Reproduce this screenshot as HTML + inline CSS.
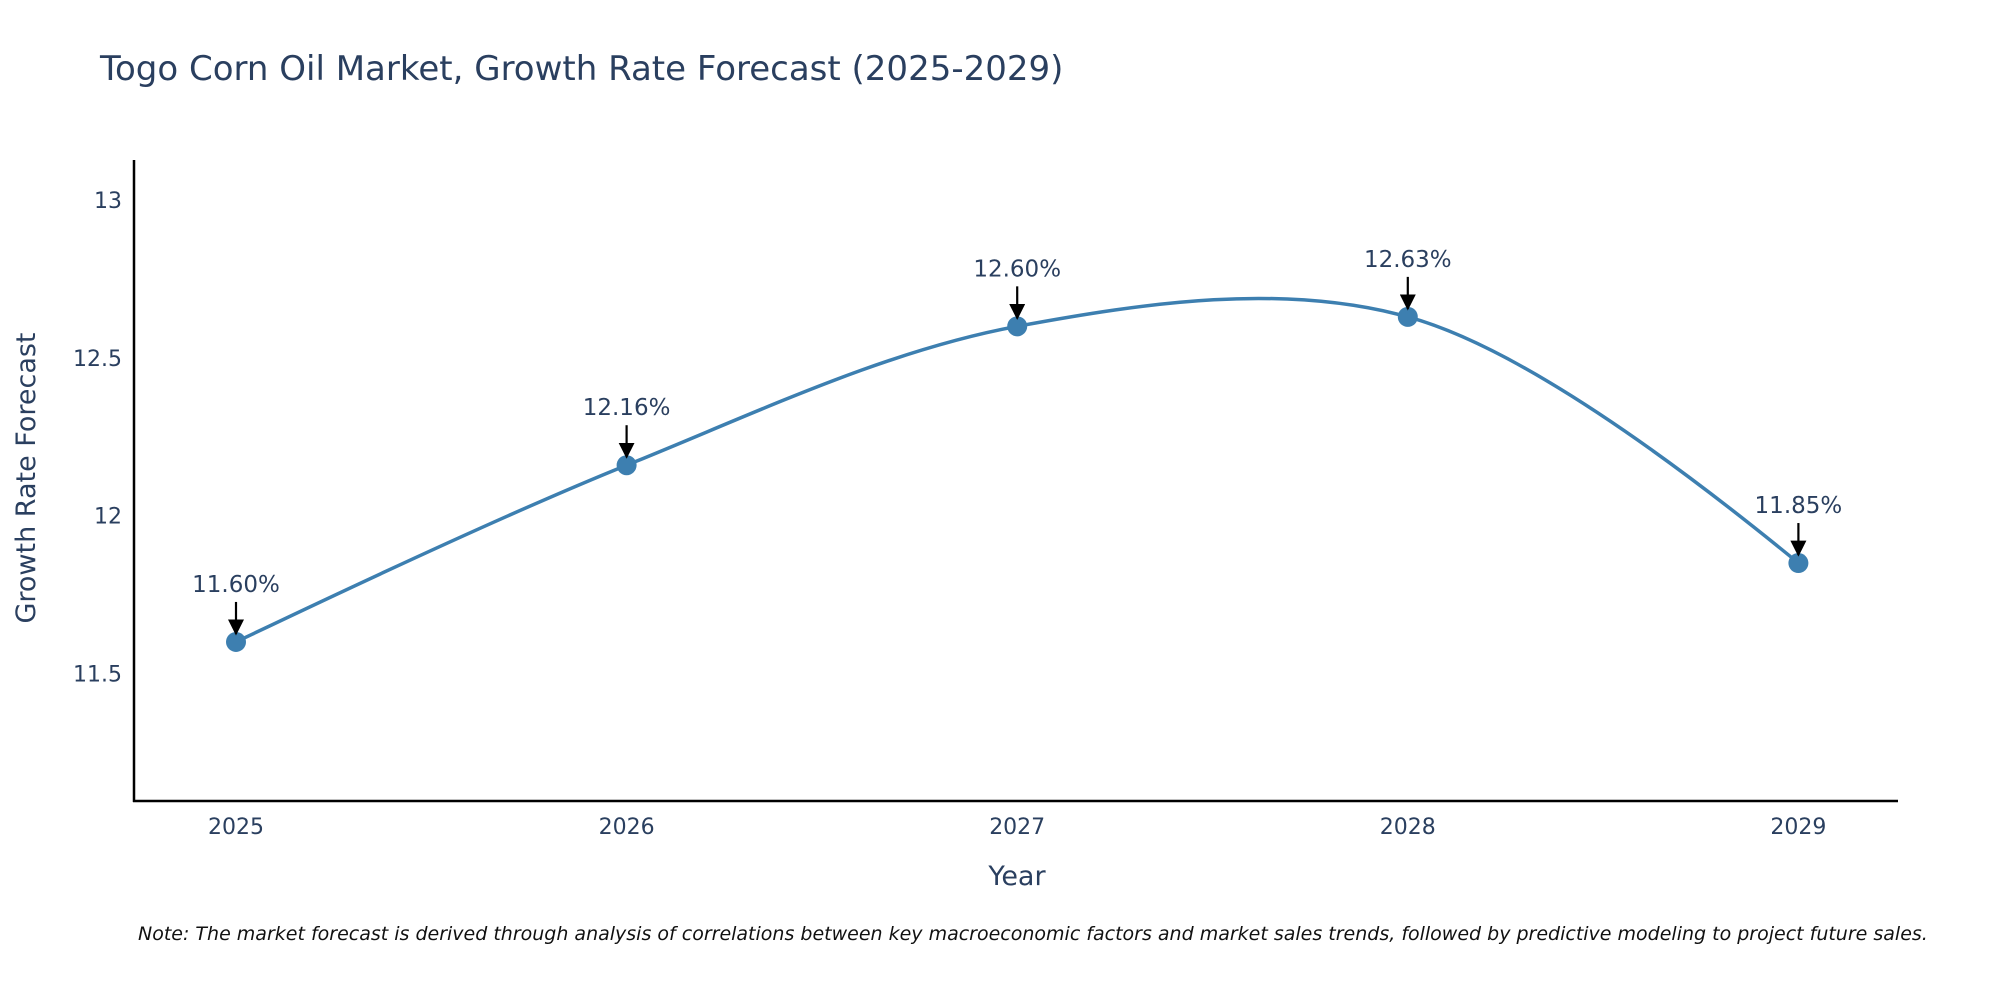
<!DOCTYPE html>
<html><head><meta charset="utf-8"><style>
body{margin:0;background:#fff;}
svg text{font-family:"DejaVu Sans","Liberation Sans",sans-serif;}
</style></head><body>
<svg id="chart" width="2000" height="1000" xmlns="http://www.w3.org/2000/svg">
<defs><marker id="ah" viewBox="0 0 10 10" refX="9" refY="5" markerWidth="7" markerHeight="7" markerUnits="userSpaceOnUse" orient="auto"><path d="M0,0L10,5L0,10z" fill="#000"/></marker>
<marker id="ah2" viewBox="0 0 10 10" refX="9" refY="5" markerWidth="16" markerHeight="16" markerUnits="userSpaceOnUse" orient="auto"><path d="M0,0L10,5L0,10z" fill="#000"/></marker></defs>
<text x="100" y="80" font-size="34" fill="#2a3f5f">Togo Corn Oil Market, Growth Rate Forecast (2025-2029)</text>
<line x1="134" y1="160" x2="134" y2="802" stroke="#000" stroke-width="2.5"/>
<line x1="133" y1="801" x2="1898" y2="801" stroke="#000" stroke-width="2.5"/>
<g id="ticks"></g>
<path id="line" fill="none" stroke="#3d7fb0" stroke-width="3.5"/>
<g id="marks"></g>
<text x="1017" y="885" font-size="27" fill="#2a3f5f" text-anchor="middle">Year</text>
<text transform="translate(35,478) rotate(-90)" font-size="27" fill="#2a3f5f" text-anchor="middle">Growth Rate Forecast</text>
<text x="138" y="940" font-size="19" font-style="italic" fill="#111">Note: The market forecast is derived through analysis of correlations between key macroeconomic factors and market sales trends, followed by predictive modeling to project future sales.</text>
</svg>
<script>
const years = ["2025","2026","2027","2028","2029"];
const values = [11.60, 12.16, 12.60, 12.63, 11.85];
const labels = ["11.60%","12.16%","12.60%","12.63%","11.85%"];
const yTicks = [11.5, 12, 12.5, 13];
const yTickLabels = ["11.5","12","12.5","13"];

const NS="http://www.w3.org/2000/svg";
const xS = i => 236 + i*390.6;
const yS = v => 673.5 - (v-11.5)*315.6;
function mk(tag, attrs, parent){const e=document.createElementNS(NS,tag);for(const k in attrs)e.setAttribute(k,attrs[k]);parent.appendChild(e);return e;}
const ticks=document.getElementById('ticks');
yTicks.forEach((t,i)=>{
  const e=mk('text',{x:122,y:yS(t)+8,'font-size':22,fill:'#2a3f5f','text-anchor':'end'},ticks);
  
  
  e.textContent=yTickLabels[i];
});
years.forEach((y,i)=>{
  const e=mk('text',{x:xS(i),y:834,'font-size':22,fill:'#2a3f5f','text-anchor':'middle'},ticks);
  
  
  e.textContent=y;
});
const pts=values.map((v,i)=>[xS(i),yS(v)]);
function tan(p,t,n,s){
  const d1x=p[0]-t[0],d1y=p[1]-t[1],d2x=n[0]-t[0],d2y=n[1]-t[1];
  const d1a=Math.pow(d1x*d1x+d1y*d1y,0.25),d2a=Math.pow(d2x*d2x+d2y*d2y,0.25);
  const nx=(d2a*d2a*d1x-d1a*d1a*d2x)*s,ny=(d2a*d2a*d1y-d1a*d1a*d2y)*s;
  const de1=3*d2a*(d1a+d2a),de2=3*d1a*(d1a+d2a);
  return [[t[0]+nx/de1,t[1]+ny/de1],[t[0]-nx/de2,t[1]-ny/de2]];
}
const tg=[];for(let i=1;i<pts.length-1;i++)tg.push(tan(pts[i-1],pts[i],pts[i+1],1));
const P=a=>a[0].toFixed(2)+','+a[1].toFixed(2);
let d='M'+P(pts[0])+'Q'+P(tg[0][0])+' '+P(pts[1]);
for(let i=2;i<pts.length-1;i++)d+='C'+P(tg[i-2][1])+' '+P(tg[i-1][0])+' '+P(pts[i]);
d+='Q'+P(tg[pts.length-3][1])+' '+P(pts[pts.length-1]);
document.getElementById('line').setAttribute('d',d);
const marks=document.getElementById('marks');
pts.forEach((p,i)=>{
  const c=mk('circle',{cx:p[0],cy:p[1],r:10,fill:'#3d7fb0'},marks);
  
  
  const a=mk('line',{x1:p[0],y1:p[1]-40,x2:p[0],y2:p[1]-8,stroke:'#000','stroke-width':2.2,'marker-end':'url(#ah2)'},marks);
  
  
  const t=mk('text',{x:p[0],y:p[1]-50,'font-size':23,fill:'#2a3f5f','text-anchor':'middle'},marks);
  
  
  t.textContent=labels[i];
});
</script>
</body></html>
